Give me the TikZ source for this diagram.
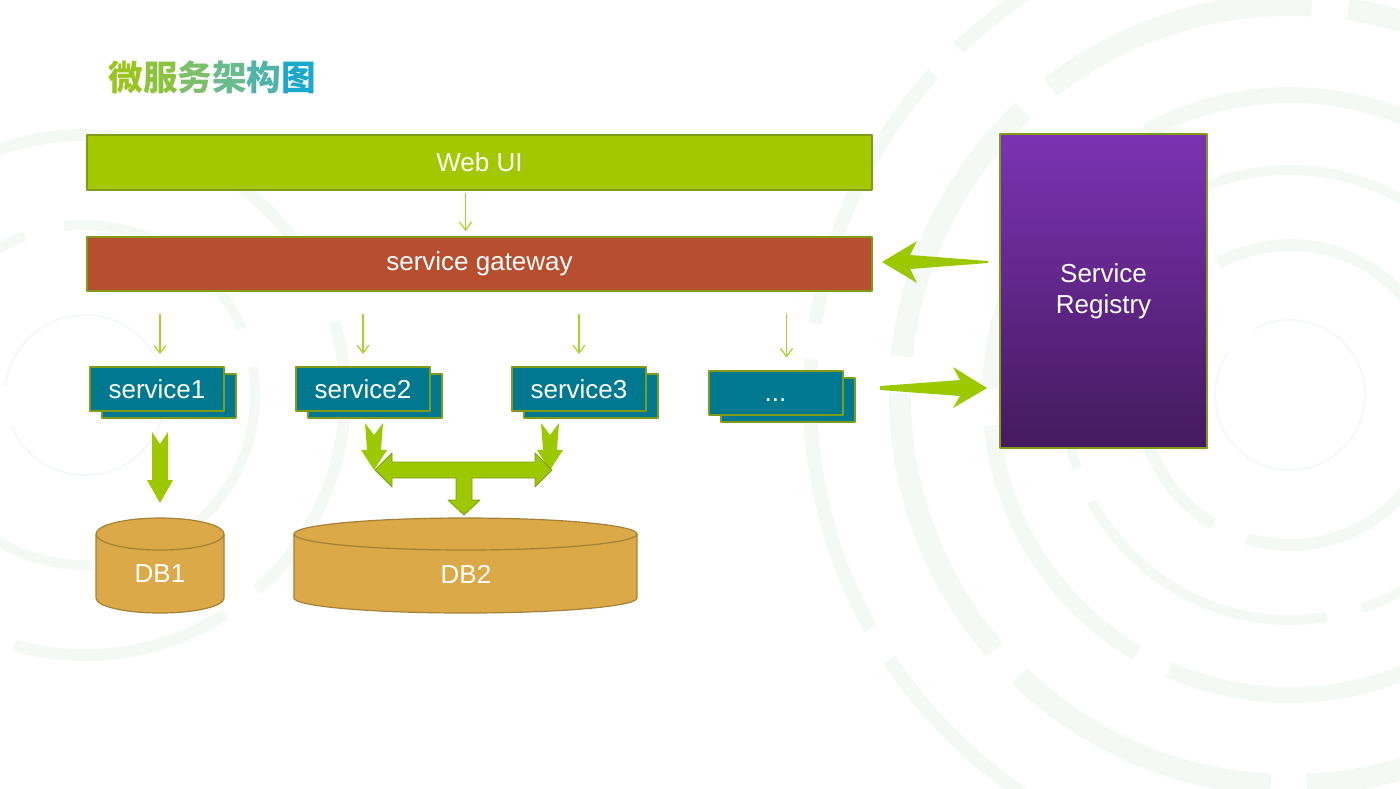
\documentclass[tikz,border=0pt]{standalone}
\usepackage{fontspec}
\setmainfont{Liberation Sans}
\newfontfamily\cjk{Noto Sans CJK SC}
\usetikzlibrary{arrows.meta,calc}
\definecolor{webgreen}{HTML}{A3C800}
\definecolor{gwred}{HTML}{B84E30}
\definecolor{svcteal}{HTML}{00788F}
\definecolor{boxline}{HTML}{7F9B18}
\definecolor{dbfill}{HTML}{DBA948}
\definecolor{dbline}{HTML}{A38136}
\definecolor{regtop}{HTML}{7C32B3}
\definecolor{regbot}{HTML}{441A5D}
\definecolor{fatgreen}{HTML}{9CC800}
\definecolor{thingreen}{HTML}{A8D02A}
\definecolor{ringcol}{HTML}{F4F9F6}
\definecolor{tA}{HTML}{9AC51E}
\definecolor{tB}{HTML}{8CC23F}
\definecolor{tC}{HTML}{7CBF68}
\definecolor{tD}{HTML}{69BA8D}
\definecolor{tE}{HTML}{50B3A7}
\definecolor{tF}{HTML}{1AA8CC}
\begin{document}
\begin{tikzpicture}[x=0.5pt,y=-0.5pt,font=\fontsize{13}{15.5}\selectfont,line join=round,
	box/.style={draw=boxline,line width=1pt,inner sep=0pt,text=white},
	svc/.style={box,fill=svcteal,minimum width=67pt,minimum height=22pt},
	thinarr/.style={draw=thingreen,line width=0.6pt,-{Straight Barb[length=4pt,width=6pt]}},
	fat/.style={fill=fatgreen},
	db/.style={fill=dbfill,draw=dbline,line width=0.6pt}]
	\useasboundingbox (0,0) rectangle (1400,788);
	% faint rings in the background
	\begin{scope}
		\clip (0,0) rectangle (1400,788);
		\foreach \r/\w in {75/2,150/12,225/10,300/16,390/22,480/14}
			\draw[ringcol,line width=\w*0.5pt,dash pattern=on 140pt off 18pt] (1290,395) circle[radius=\r];
		\foreach \r/\w in {80/2,170/10,260/12}
			\draw[ringcol,line width=\w*0.5pt,dash pattern=on 110pt off 20pt] (85,395) circle[radius=\r];
	\end{scope}
	% title
	\node[anchor=west,inner sep=0pt,font=\cjk\bfseries\fontsize{17.3}{20}\selectfont] (title) at (108,77)
		{\textcolor{tA}{微}\textcolor{tB}{服}\textcolor{tC}{务}\textcolor{tD}{架}\textcolor{tE}{构}\textcolor{tF}{图}};
	% layers
	\node[box,fill=webgreen,minimum width=392.5pt,minimum height=27.5pt] (web) at (479.5,162.5) {Web UI};
	\node[box,fill=gwred,minimum width=392.5pt,minimum height=27pt] (gw) at (479.5,264) {service gateway};
	\node[box,top color=regtop,bottom color=regbot,minimum width=103.5pt,minimum height=157pt,align=center]
		(reg) at (1103.5,291) {\raisebox{-1.5pt}{\parbox{100pt}{\centering Service\\Registry}}};
	\foreach \n/\t/\x in {s1/service1/157,s2/service2/363,s3/service3/579}{
		\node[svc] at (\x+12,396) {};
		\node[svc] (\n) at (\x,389) {\t};
	}
	\node[svc] at (787.5,399.5) {};
	\node[svc] (s4) at (775.5,392.5) {\vphantom{s1}...};
	% thin arrows
	\draw[thinarr,shorten <=1pt,shorten >=2.5pt] ($(web.south)+(-14,0)$) -- ($(gw.north)+(-14,0)$);
	\foreach \n/\dx in {s1/3,s2/0,s3/0,s4/11}
		\draw[thinarr,shorten <=11pt,shorten >=6pt] ($(gw.south -| \n.north)+(\dx,0)$) -- ($(\n.north)+(\dx,0)$);
	% databases
	\path[db] (96,534) -- (96,598) arc[start angle=180,end angle=0,x radius=64,y radius=15]
		-- (224,534) arc[start angle=0,end angle=-180,x radius=64,y radius=16] -- cycle;
	\draw[dbline,line width=0.6pt] (96,534) arc[start angle=180,end angle=0,x radius=64,y radius=16];
	\path[db] (294,534) -- (294,598) arc[start angle=180,end angle=0,x radius=171.5,y radius=15]
		-- (637,534) arc[start angle=0,end angle=-180,x radius=171.5,y radius=16] -- cycle;
	\draw[dbline,line width=0.6pt] (294,534) arc[start angle=180,end angle=0,x radius=171.5,y radius=16];
	\node[text=white] (db1) at (160,574) {DB1};
	\node[text=white] (db2) at (466,574) {DB2};
	% block arrows
	\fill[fat] (152,432) -- (160,444) -- (168,432) -- (168,480) -- (173,480) -- (160,503)
		-- (147,480) -- (152,480) -- cycle;
	\fill[fat] (365,423) -- (374,435) -- (383,423) -- (381,450) -- (387,450) -- (374,470)
		-- (361,450) -- (367,450) -- cycle;
	\fill[fat] (541,423) -- (550,435) -- (559,423) -- (557,450) -- (563,450) -- (550,470)
		-- (537,450) -- (543,450) -- cycle;
	\filldraw[fat,draw=boxline,line width=0.4pt] (375,470) -- (392,453) -- (392,462) -- (535,462)
		-- (535,453) -- (552,470) -- (535,487) -- (535,478) -- (472,478) -- (472,500) -- (480,500)
		-- (464,515) -- (448,500) -- (456,500) -- (456,478) -- (392,478) -- (392,487) -- cycle;
	% registry arrows
	\fill[fat] (988,261) -- (910,255) -- (917,241) -- (882,262) -- (917,283) -- (910,269)
		-- (988,263) -- cycle;
	\fill[fat] (880,386) -- (960,380) -- (953,367) -- (987,388) -- (953,408) -- (960,396)
		-- (880,390) -- cycle;
\end{tikzpicture}
\end{document}
